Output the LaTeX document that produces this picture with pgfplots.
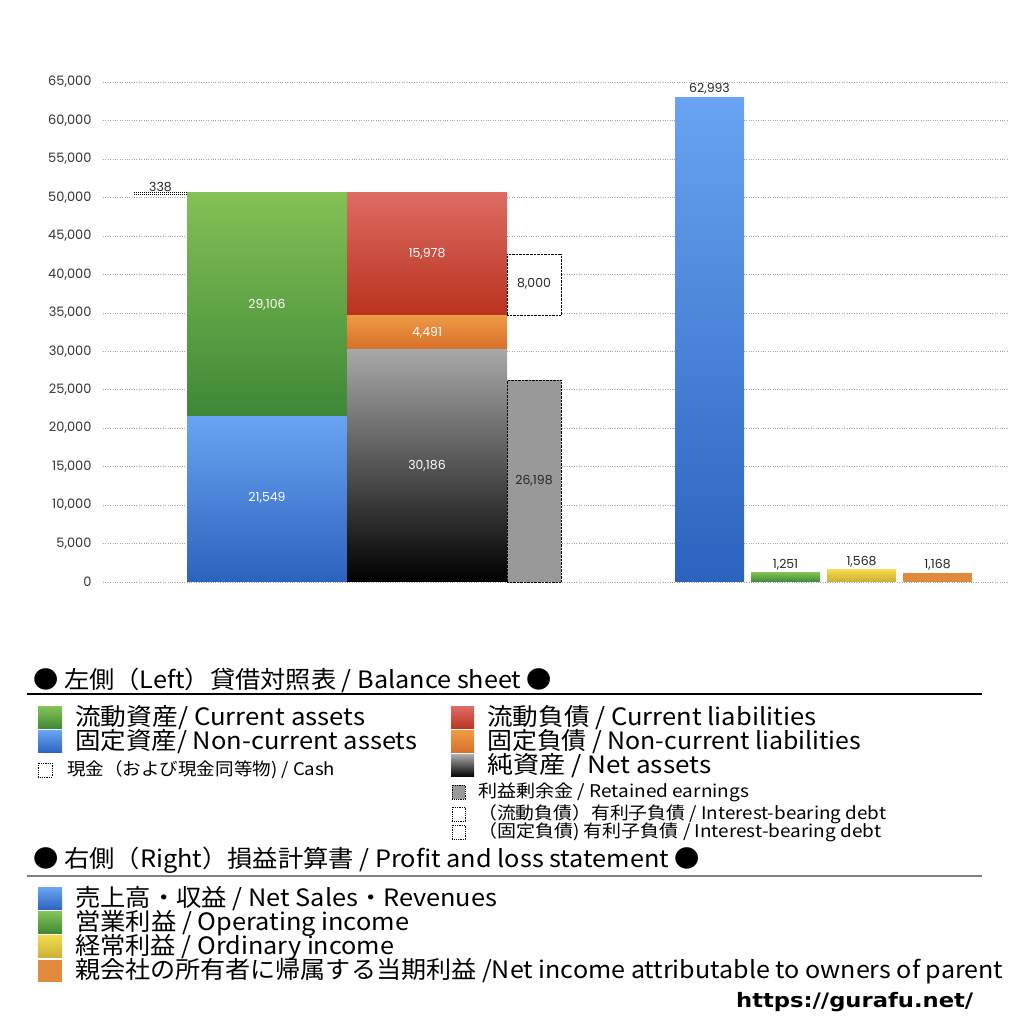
\documentclass[border=0pt]{standalone}
\usepackage{fontspec}
\setmainfont{Noto Sans CJK JP}
\newfontfamily\numfont{Poppins}
\newfontfamily\urlfont{DejaVu Sans}
\usepackage{pgfplots}
\pgfplotsset{compat=1.18}

\definecolor{blueT}{HTML}{68A4F1}
\definecolor{blueB}{HTML}{2C62BE}
\definecolor{greenT}{HTML}{84C156}
\definecolor{greenB}{HTML}{3D8836}
\definecolor{redT}{HTML}{DD6B63}
\definecolor{redB}{HTML}{B9331E}
\definecolor{orangeT}{HTML}{EE9A44}
\definecolor{orangeB}{HTML}{D66F2A}
\definecolor{grayT}{HTML}{A8A8A8}
\definecolor{grayB}{HTML}{000000}
\definecolor{retained}{HTML}{999999}
\definecolor{yellowT}{HTML}{F2DA4C}
\definecolor{yellowB}{HTML}{CBAE35}
\definecolor{netinc}{HTML}{E08A3C}

\pgfplotsset{
  frame/.style={at={(103bp,442bp)}, anchor=south west,
    scale only axis, width=904bp, height=500bp,
    xmin=103, xmax=1007, ymin=0, ymax=65000, clip=false},
  column/.style={frame, hide axis, ybar stacked},
}

\begin{document}
\begin{tikzpicture}[x=1bp,y=1bp]
\path[use as bounding box] (0,0) rectangle (1024,1024);

% grid, ticks and the single bars
\begin{axis}[
  frame,
  axis line style={draw=none},
  xtick=\empty,
  ytick distance=5000,
  major tick style={draw=none},
  ymajorgrids,
  grid style={dotted, black!35, line width=0.5bp},
  scaled y ticks=false,
  yticklabel style={font=\numfont\fontsize{13}{15}\selectfont, text=black!80,
    xshift=-8bp, /pgf/number format/assume math mode=true, /pgf/number format/1000 sep={,}},
]
\addplot[ybar, bar shift=0, draw=black, densely dotted, fill=retained, bar width=54] coordinates {(534,26198)};
\addplot[ybar, bar shift=0, draw=none, bar width=69, top color=blueT, bottom color=blueB] coordinates {(709.5,62993)};
\addplot[ybar, bar shift=0, draw=none, bar width=69, top color=greenT, bottom color=greenB] coordinates {(785.5,1251)};
\addplot[ybar, bar shift=0, draw=none, bar width=69, top color=yellowT, bottom color=yellowB] coordinates {(861.5,1568)};
\addplot[ybar, bar shift=0, draw=none, bar width=69, fill=netinc] coordinates {(937.5,1168)};
\end{axis}

% cash
\begin{axis}[column]
\addplot[draw=none, fill=none, bar width=53] coordinates {(160.5,50317)};
\addplot[draw=black, densely dotted, line width=1bp, fill=white, bar width=53] coordinates {(160.5,338)};
\end{axis}

% assets
\begin{axis}[column]
\addplot[draw=none, bar width=160, top color=blueT, bottom color=blueB] coordinates {(267,21549)};
\addplot[draw=none, bar width=160, top color=greenT, bottom color=greenB] coordinates {(267,29106)};
\end{axis}

% liabilities and net assets
\begin{axis}[column]
\addplot[draw=none, bar width=160, top color=grayT, bottom color=grayB] coordinates {(427,30186)};
\addplot[draw=none, bar width=160, top color=orangeT, bottom color=orangeB] coordinates {(427,4491)};
\addplot[draw=none, bar width=160, top color=redT, bottom color=redB] coordinates {(427,15978)};
\end{axis}

% interest-bearing debt
\begin{axis}[column]
\addplot[draw=none, fill=none, bar width=54] coordinates {(534,30186)};
\addplot[draw=none, fill=none, bar width=54] coordinates {(534,4491)};
\addplot[draw=black, densely dotted, fill=white, bar width=54] coordinates {(534,8000)};
\end{axis}

% value labels
\begin{axis}[frame, hide axis]
\begin{scope}[font=\numfont\fontsize{12.5}{14}\selectfont]
\node[text=black!85] at (axis cs:160.5,51350) {338};
\node[text=white] at (axis cs:267,36010) {29,106};
\node[text=white] at (axis cs:267,10920) {21,549};
\node[text=white] at (axis cs:427,42640) {15,978};
\node[text=white] at (axis cs:427,32370) {4,491};
\node[text=white] at (axis cs:427,15080) {30,186};
\node[text=black!85] at (axis cs:534,38740) {8,000};
\node[text=black!85] at (axis cs:534,13130) {26,198};
\node[text=black!85] at (axis cs:709.5,64090) {62,993};
\node[text=black!85] at (axis cs:785.5,2210) {1,251};
\node[text=black!85] at (axis cs:861.5,2600) {1,568};
\node[text=black!85] at (axis cs:937.5,2210) {1,168};
\end{scope}
\end{axis}

\begin{scope}[yshift=1024bp, y=-1bp]
\tikzset{big/.style={anchor=west, inner sep=0, font=\fontsize{24}{27}\selectfont},
         small/.style={anchor=west, inner sep=0, font=\fontsize{17.5}{19}\selectfont}}
\newcommand\fit[2]{\resizebox{#1bp}{\height}{#2}}
% balance sheet
\node[big] at (33,680) {\fit{519}{● 左側（Left）貸借対照表 / Balance sheet ●}};
\draw[line width=1.5bp] (27,694) -- (982,694);
\shade[top color=greenT, bottom color=greenB] (38,707) rectangle (62,729);
\node[big] at (75,718) {\fit{290}{流動資産/ Current assets}};
\shade[top color=blueT, bottom color=blueB] (38,731) rectangle (62,753);
\node[big] at (75,742) {\fit{342}{固定資産/ Non-current assets}};
\draw[densely dotted, line width=0.8bp] (38,763) rectangle (52,777);
\node[small] at (67,770) {\fit{268}{現金（および現金同等物) / Cash}};
\shade[top color=redT, bottom color=redB] (451,707) rectangle (474,729);
\node[big] at (487,718) {\fit{329}{流動負債 /  Current liabilities}};
\shade[top color=orangeT, bottom color=orangeB] (451,731) rectangle (474,753);
\node[big] at (487,742) {\fit{374}{固定負債 / Non-current liabilities}};
\shade[top color=grayT, bottom color=grayB] (451,755) rectangle (474,777);
\node[big] at (487,766) {\fit{224}{純資産 / Net assets}};
\draw[densely dotted, line width=0.8bp, fill=retained] (452,785) rectangle (465,799);
\node[small] at (478,792) {\fit{271}{利益剰余金 / Retained earnings}};
\draw[densely dotted, line width=0.8bp] (452,807) rectangle (465,821);
\node[small] at (478,814) {\fit{408}{（流動負債）有利子負債 / Interest-bearing debt}};
\draw[densely dotted, line width=0.8bp] (452,825) rectangle (465,839);
\node[small] at (478,832) {\fit{403}{（固定負債) 有利子負債 / Interest-bearing debt}};
% profit and loss
\node[big] at (33,860) {\fit{667}{● 右側（Right）損益計算書 / Profit and loss statement ●}};
\draw[line width=2bp, black!50] (27,876) -- (982,876);
\shade[top color=blueT, bottom color=blueB] (38,888) rectangle (62,910);
\node[big] at (75,899) {\fit{422}{売上高・収益 / Net Sales・Revenues}};
\shade[top color=greenT, bottom color=greenB] (38,912) rectangle (62,934);
\node[big] at (75,923) {\fit{334}{営業利益 / Operating income}};
\shade[top color=yellowT, bottom color=yellowB] (38,936) rectangle (62,958);
\node[big] at (75,947) {\fit{319}{経常利益 / Ordinary income}};
\fill[netinc] (38,960) rectangle (62,982);
\node[big] at (75,971) {\fit{928}{親会社の所有者に帰属する当期利益 /Net income attributable to owners of parent}};
\node[anchor=west, inner sep=0, font=\urlfont\bfseries\fontsize{20}{22}\selectfont] at (736,1002) {\fit{237}{https://gurafu.net/}};
\end{scope}
\end{tikzpicture}
\end{document}
